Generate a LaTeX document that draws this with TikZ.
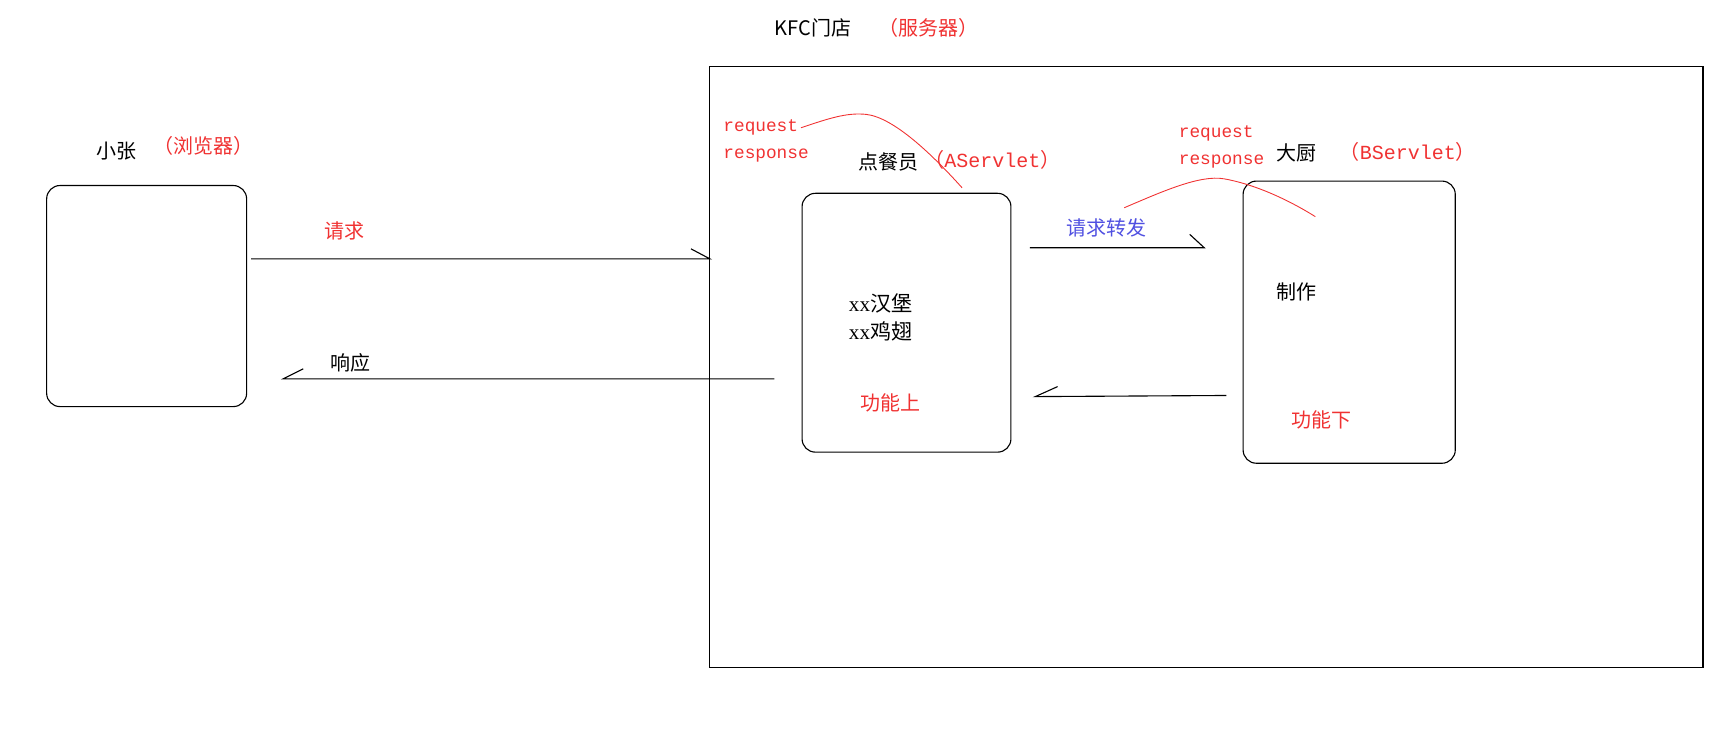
\documentclass[tikz,border=0pt]{standalone}
\usepackage{fontspec}
\setmainfont{Liberation Serif}
\newfontfamily\cjk{Noto Sans CJK SC}
\newfontfamily\mono{Liberation Mono}
\definecolor{myred}{RGB}{240,50,50}
\definecolor{myblue}{RGB}{80,80,225}
\begin{document}
\begin{tikzpicture}[x=1pt,y=-1pt,
  lbl/.style={anchor=west,inner sep=0pt,font=\cjk\fontsize{18}{21}\selectfont},
  monolbl/.style={anchor=west,inner sep=0pt,font=\mono\fontsize{16}{19}\selectfont,text=myred},
  rbox/.style={draw,line width=1pt,rounded corners=12pt,inner sep=0pt},
  conn/.style={line width=1pt},
  curve/.style={myred,line width=0.8pt}]
\useasboundingbox (0,0) rectangle (1560,656);
% outer server box
\node[draw,line width=1pt,inner sep=0pt,minimum width=894pt,minimum height=541pt] (srv) at (1086,330.5) {};
% title
\node[lbl] (title) at (697,25) {KFC门店};
\node[lbl,text=myred] (titler) at (791,25) {（服务器）};
% browser
\node[lbl] (zhang) at (87,136) {小张};
\node[lbl,text=myred] (zhangr) at (138,131) {（浏览器）};
\node[rbox,minimum width=180pt,minimum height=199pt] (browser) at (132,266.5) {};
% A servlet
\node[rbox,minimum width=188pt,minimum height=233pt] (aserv) at (816,290.5) {};
\node[lbl] (acook) at (773,146) {点餐员};
\node[lbl,text=myred] (aname) at (832,144) {（\mono AServlet\cjk）};
\node[monolbl] (areq) at (651,115) {request};
\node[monolbl] (aresp) at (651,140) {response};
\node[anchor=west,inner sep=0pt,font=\fontsize{19}{22}\selectfont] (food1) at (764,273) {xx\cjk 汉堡};
\node[anchor=west,inner sep=0pt,font=\fontsize{19}{22}\selectfont] (food2) at (764,298) {xx\cjk 鸡翅};
\node[lbl,text=myred] (funa) at (774,363) {功能上};
% B servlet
\node[rbox,minimum width=191pt,minimum height=254pt] (bserv) at (1214.5,290) {};
\node[lbl] (bcook) at (1149,138) {大厨};
\node[lbl,text=myred] (bname) at (1206,137) {（\mono BServlet\cjk）};
\node[monolbl] (breq) at (1061,120) {request};
\node[monolbl] (bresp) at (1061,145) {response};
\node[lbl] (make) at (1149,263) {制作};
\node[lbl,text=myred] (funb) at (1162,378) {功能下};
% arrows
\node[lbl,text=myred] (reqlbl) at (292,208) {请求};
\coordinate (r1) at (226,233);
\coordinate (r2) at (639,233);
\coordinate (r2b) at (622,224);
\draw[conn] (r1) -- (r2) -- (r2b);
\node[lbl] (resplbl) at (297,327) {响应};
\coordinate (s1) at (697,341);
\coordinate (s2) at (255,341);
\coordinate (s2b) at (273,332);
\draw[conn] (s1) -- (s2) -- (s2b);
\node[lbl,text=myblue] (fwdlbl) at (960,205) {请求转发};
\coordinate (f1) at (927,223);
\coordinate (f2) at (1084,223);
\coordinate (f2b) at (1071,211);
\draw[conn] (f1) -- (f2) -- (f2b);
\coordinate (b1) at (1104,356);
\coordinate (b2) at (932,357);
\coordinate (b2b) at (952,348);
\draw[conn] (b1) -- (b2) -- (b2b);
% red curves
\coordinate (c1s) at (721,115);
\coordinate (c1p) at (780,103);
\coordinate (c1e) at (866,169);
\draw[curve] (c1s) .. controls (745,107) and (762,101) .. (c1p) .. controls (805,106) and (840,140) .. (c1e);
\coordinate (c2s) at (1012,187);
\coordinate (c2p) at (1102,161);
\coordinate (c2e) at (1184,195);
\draw[curve] (c2s) .. controls (1045,173) and (1080,157) .. (c2p) .. controls (1130,166) and (1160,180) .. (c2e);
\end{tikzpicture}
\end{document}
